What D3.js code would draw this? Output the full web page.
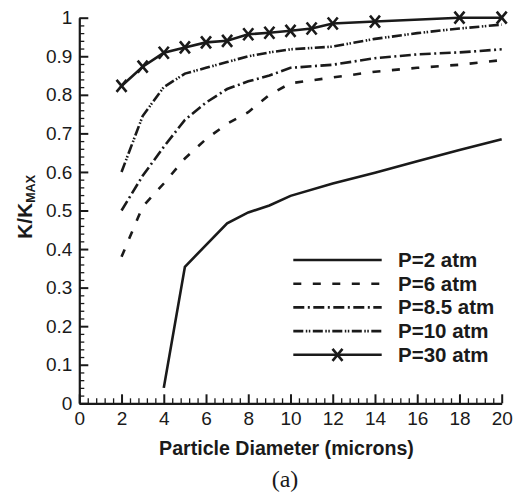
<!DOCTYPE html>
<html>
<head>
<meta charset="utf-8">
<script src="https://cdn.jsdelivr.net/npm/d3@7"></script>
<style>
  body { margin: 0; background: #fff; }
  svg { display: block; }
  text { fill: #1a1a1a; }
</style>
</head>
<body>
<svg id="chart" width="521" height="492"></svg>
<script>
// data
var seriesNames = ["P=2 atm", "P=6 atm", "P=8.5 atm", "P=10 atm", "P=30 atm"];

var p2x  = [4, 5, 7, 8, 9, 10, 12, 14, 16, 18, 20];
var p2y  = [0.04, 0.354, 0.467, 0.495, 0.513, 0.538, 0.57, 0.598, 0.628, 0.657, 0.685];

var p6x  = [2, 3, 4, 5, 6, 7, 8, 9, 10, 12, 14, 16, 18, 20];
var p6y  = [0.38, 0.51, 0.57, 0.635, 0.685, 0.725, 0.755, 0.8, 0.83, 0.845, 0.86, 0.87, 0.878, 0.89];

var p85x = [2, 3, 4, 5, 6, 7, 8, 9, 10, 12, 14, 16, 18, 20];
var p85y = [0.5, 0.59, 0.665, 0.735, 0.78, 0.815, 0.835, 0.85, 0.87, 0.878, 0.895, 0.905, 0.91, 0.918];

var p10x = [2, 3, 4, 5, 6, 7, 8, 9, 10, 12, 14, 16, 18, 20];
var p10y = [0.6, 0.745, 0.82, 0.855, 0.87, 0.885, 0.9, 0.91, 0.918, 0.925, 0.945, 0.96, 0.972, 0.982];

var p30x = [2, 3, 4, 5, 6, 7, 8, 9, 10, 11, 12, 14, 18, 20];
var p30y = [0.823, 0.873, 0.909, 0.923, 0.936, 0.94, 0.957, 0.961, 0.966, 0.972, 0.985, 0.99, 1.0, 1.0];

var xTicks = [0, 2, 4, 6, 8, 10, 12, 14, 16, 18, 20];
var yTicks = [0, 0.1, 0.2, 0.3, 0.4, 0.5, 0.6, 0.7, 0.8, 0.9, 1];

function draw_chart()
{
    var svg = d3.select("svg#chart");
    var left = 79.3, right = 501.7, top = 17.7, bottom = 403.3;

    var x = d3.scaleLinear().domain([0, 20]).range([left, right]);
    var y = d3.scaleLinear().domain([0, 1]).range([bottom, top]);

    var ink = "#1a1a1a";
    var font = "'Liberation Sans', Arial, sans-serif";

    // minor ticks first
    var xMinor = d3.range(0, 20.001, 0.4).filter(function (v) { return Math.abs(v / 2 - Math.round(v / 2)) > 0.01; });
    var yMinor = d3.range(0, 1.0001, 0.02).filter(function (v) { return Math.abs(v * 10 - Math.round(v * 10)) > 0.01; });

    svg.append("g")
        .attr("transform", "translate(0," + bottom + ")")
        .call(d3.axisBottom(x).tickValues(xMinor).tickSize(-5).tickFormat(""))
        .call(g => g.select(".domain").remove())
        .selectAll("line").attr("stroke", ink).attr("stroke-width", 1.3);

    svg.append("g")
        .attr("transform", "translate(" + left + ",0)")
        .call(d3.axisLeft(y).tickValues(yMinor).tickSize(-5).tickFormat(""))
        .call(g => g.select(".domain").remove())
        .selectAll("line").attr("stroke", ink).attr("stroke-width", 1.3);

    // major ticks + labels
    var xAxis = svg.append("g")
        .attr("transform", "translate(0," + bottom + ")")
        .call(d3.axisBottom(x).tickValues(xTicks).tickSizeInner(-9).tickSizeOuter(0).tickPadding(8).tickFormat(d3.format("d")));
    xAxis.select(".domain").attr("stroke", ink).attr("stroke-width", 2.2);
    xAxis.selectAll("line").attr("stroke", ink).attr("stroke-width", 2);
    xAxis.selectAll("text").attr("font-family", font).attr("font-size", 19).attr("fill", ink);

    var yAxis = svg.append("g")
        .attr("transform", "translate(" + left + ",0)")
        .call(d3.axisLeft(y).tickValues(yTicks).tickSizeInner(-9).tickSizeOuter(0).tickPadding(7)
            .tickFormat(function (d) { return d === 0 || d === 1 ? d3.format("d")(d) : d3.format(".1f")(d); }));
    yAxis.select(".domain").attr("stroke", ink).attr("stroke-width", 2.2);
    yAxis.selectAll("line").attr("stroke", ink).attr("stroke-width", 2);
    yAxis.selectAll("text").attr("font-family", font).attr("font-size", 19).attr("fill", ink);

    // axis titles
    svg.append("text")
        .attr("x", (left + right) / 2 - 4)
        .attr("y", 455)
        .attr("text-anchor", "middle")
        .attr("font-family", font)
        .attr("font-weight", "bold")
        .attr("font-size", 19.6)
        .text("Particle Diameter (microns)");

    var yl = svg.append("text")
        .attr("transform", "translate(31.5,207) rotate(-90)")
        .attr("text-anchor", "middle")
        .attr("font-family", font)
        .attr("font-weight", "bold")
        .attr("font-size", 21);
    yl.append("tspan").text("K/K");
    yl.append("tspan").attr("font-size", 12.5).attr("dy", 3).text("MAX");

    svg.append("text")
        .attr("x", 285)
        .attr("y", 487)
        .attr("text-anchor", "middle")
        .attr("font-family", "'Liberation Serif', 'DejaVu Serif', serif")
        .attr("font-size", 24)
        .text("(a)");

    // series
    var dashes = ["none", "8,11.5", "11,3.5,2,3.5", "10,2.5,1.5,1.5,1.5,2.5", "none"];
    var xs = [p2x, p6x, p85x, p10x, p30x];
    var ys = [p2y, p6y, p85y, p10y, p30y];

    var line = d3.line().x(d => x(d[0])).y(d => y(d[1]));

    var series = seriesNames.map(function (name, i) {
        return { name: name, dash: dashes[i], pts: xs[i].map(function (v, j) { return [v, ys[i][j]]; }) };
    });

    svg.append("g").selectAll("path")
        .data(series)
        .enter()
        .append("path")
        .attr("d", d => line(d.pts))
        .attr("fill", "none")
        .attr("stroke", ink)
        .attr("stroke-width", 2.6)
        .attr("stroke-dasharray", d => d.dash);

    // x markers on P=30
    function cross(g, cx, cy) {
        g.append("path")
            .attr("d", "M" + (cx - 5) + "," + (cy - 6) + "L" + (cx + 5) + "," + (cy + 6) +
                       "M" + (cx + 5) + "," + (cy - 6) + "L" + (cx - 5) + "," + (cy + 6))
            .attr("stroke", ink)
            .attr("stroke-width", 2.6)
            .attr("fill", "none");
    }
    var mk = svg.append("g");
    series[4].pts.forEach(function (p) { cross(mk, x(p[0]), y(p[1])); });

    // legend
    var legend = svg.append("g");
    var lx0 = 293.3, lx1 = 381.7, ly0 = 260, dy = 23.7;
    series.forEach(function (s, i) {
        var yy = ly0 + i * dy;
        legend.append("line")
            .attr("x1", lx0).attr("x2", lx1).attr("y1", yy).attr("y2", yy)
            .attr("stroke", ink).attr("stroke-width", 2.6)
            .attr("stroke-dasharray", s.dash);
        if (i === 4) cross(legend, (lx0 + lx1) / 2, yy);
        legend.append("text")
            .attr("x", 398)
            .attr("y", yy + 7)
            .attr("font-family", font)
            .attr("font-weight", "bold")
            .attr("font-size", 20.5)
            .text(s.name);
    });
}

draw_chart();
</script>
</body>
</html>
